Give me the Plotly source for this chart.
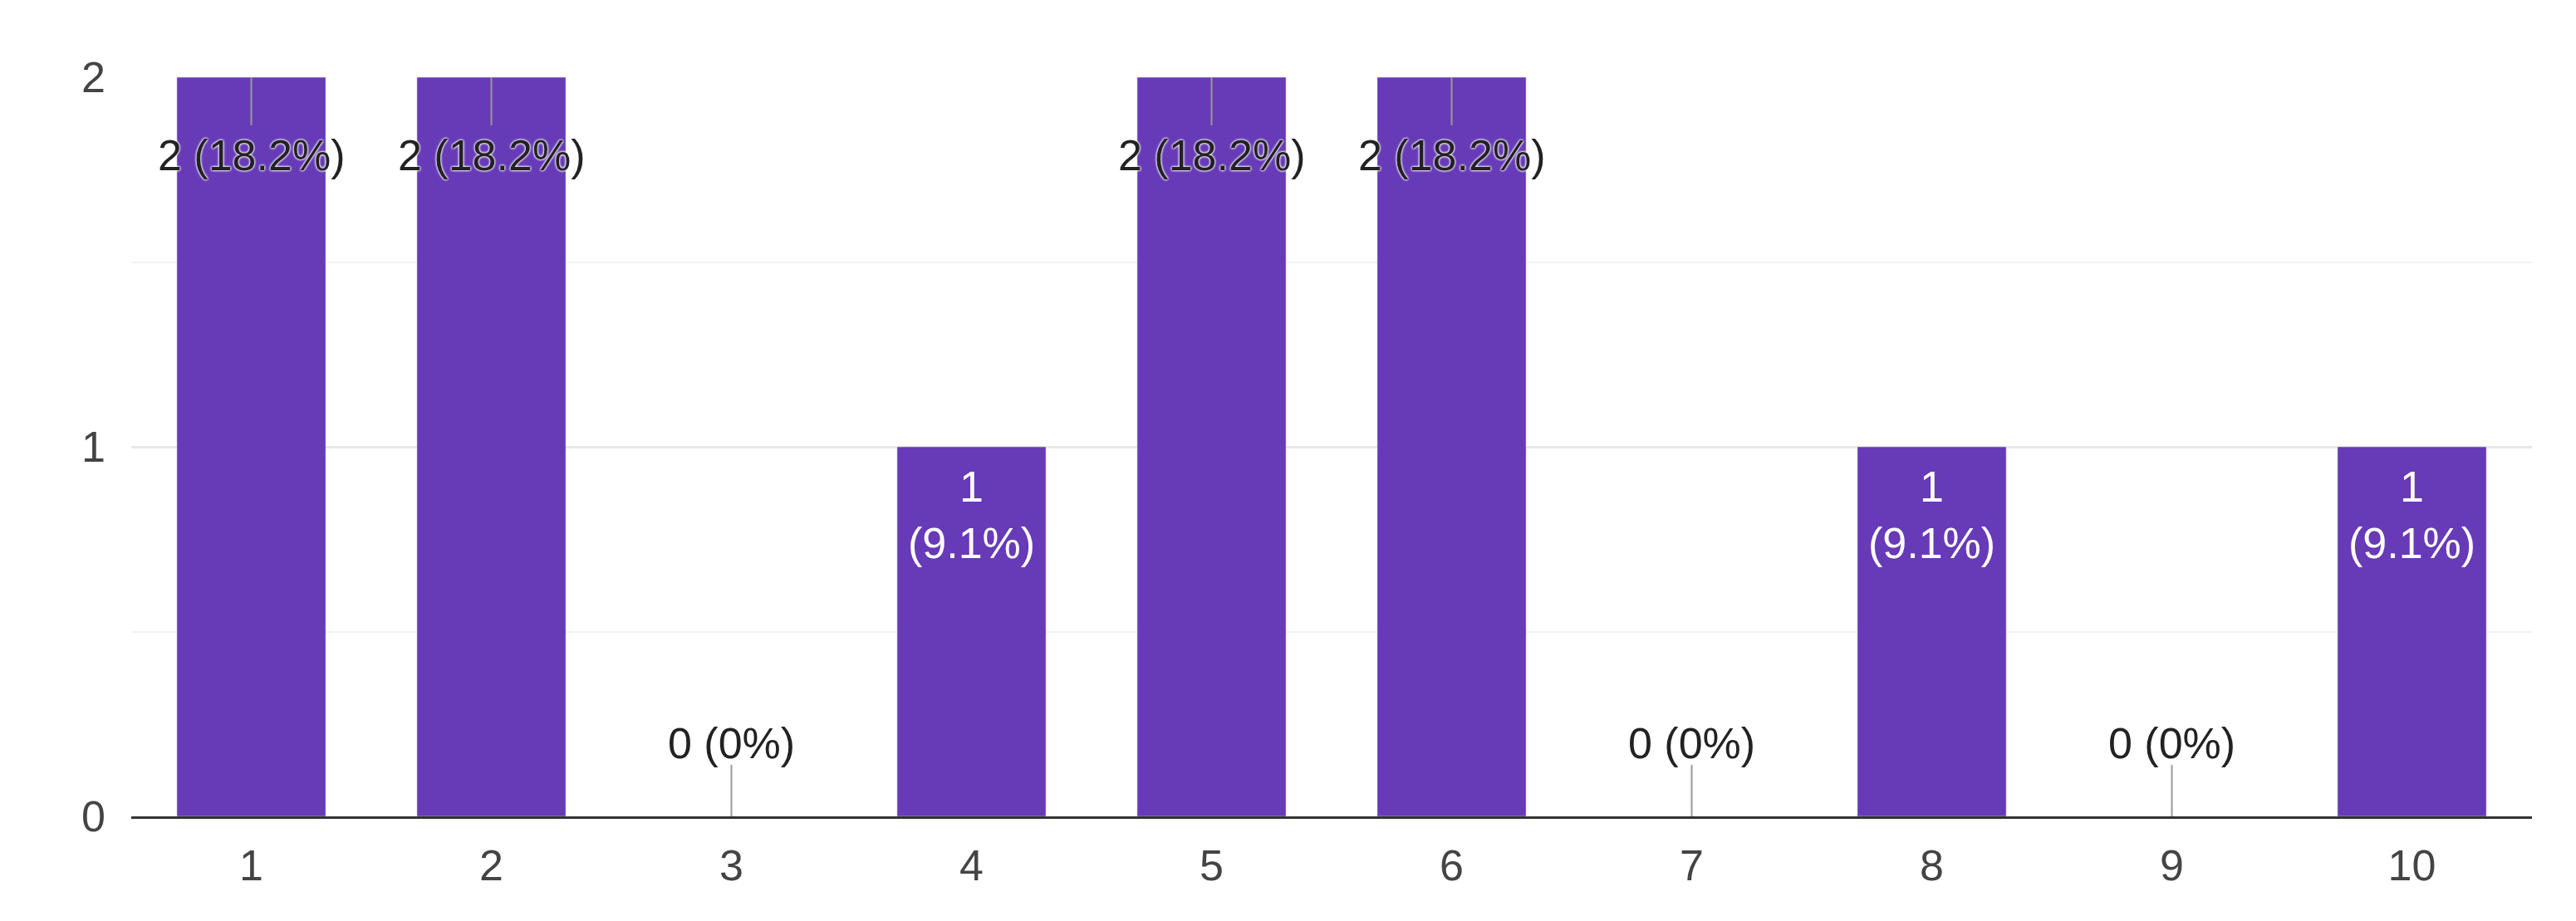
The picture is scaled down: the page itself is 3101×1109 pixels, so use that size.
import plotly.graph_objects as go

categories = ["1", "2", "3", "4", "5", "6", "7", "8", "9", "10"]
counts = [2, 2, 0, 1, 2, 2, 0, 1, 0, 1]
percents = ["18.2%", "18.2%", "0%", "9.1%", "18.2%", "18.2%", "0%", "9.1%", "0%", "9.1%"]

fig = go.Figure(go.Bar(x=categories, y=counts, marker_color="#673ab7", width=0.62, hoverinfo="skip"))

FS = 52
anns, shapes = [], []
for i, (v, p) in enumerate(zip(counts, percents)):
    if v == 2:
        anns.append(dict(x=i, y=v, text=f"{v} ({p})", showarrow=False, yshift=-94,
                         font=dict(size=FS, color="#222", shadow="0 0 3px white, 0 0 3px white, 0 0 2px white")))
        shapes.append(dict(type="line", xref="x", yref="y", x0=i, x1=i, ysizemode="pixel", yanchor=v,
                           y0=0, y1=-58, line=dict(color="#999", width=2)))
    elif v == 1:
        anns.append(dict(x=i, y=v, text=f"{v}<br>({p})", showarrow=False, yshift=-82,
                         font=dict(size=FS, color="white")))
    else:
        anns.append(dict(x=i, y=v, text=f"{v} ({p})", showarrow=False, yshift=88,
                         font=dict(size=FS, color="#222")))
        shapes.append(dict(type="line", xref="x", yref="y", x0=i, x1=i, ysizemode="pixel", yanchor=v,
                           y0=0, y1=62, line=dict(color="#999", width=2)))

fig.update_layout(
    width=3101, height=1109, margin=dict(l=150, r=61, t=85, b=134),
    plot_bgcolor="white", paper_bgcolor="white", showlegend=False,
    font=dict(family="Liberation Sans, Arial", size=FS, color="#444"),
    annotations=anns, shapes=shapes,
    xaxis=dict(type="category", range=[-0.5, 9.5], showline=True, linecolor="#333", linewidth=3, ticks="",
               ticklabelstandoff=12, tickfont=dict(size=FS, color="#444")),
    yaxis=dict(range=[0, 2], dtick=1, showgrid=True, gridcolor="#e8e8e8", gridwidth=3,
               minor=dict(dtick=0.5, showgrid=True, gridcolor="#f2f2f2", gridwidth=2),
               zeroline=False, ticks="", ticklabelstandoff=30, tickfont=dict(size=FS, color="#444")),
)
fig.write_html("out.html")
